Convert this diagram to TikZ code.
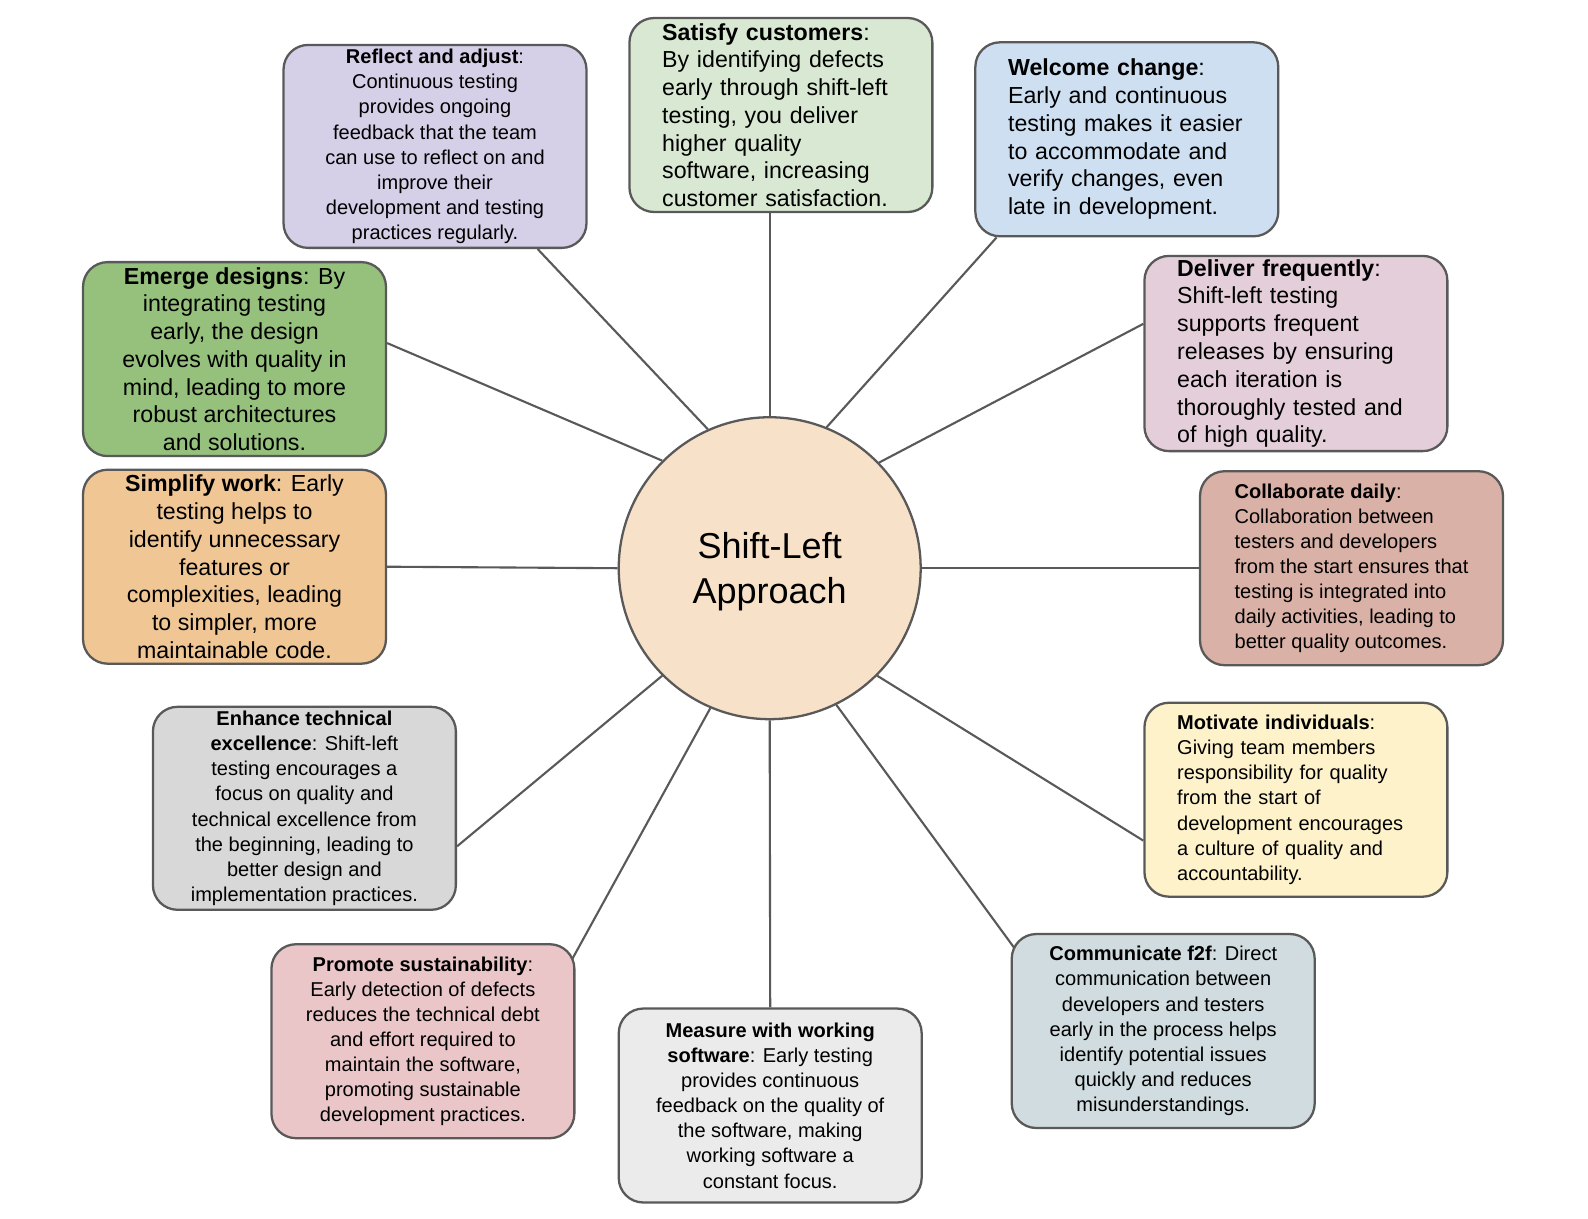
\documentclass[tikz,border=0pt]{standalone}
\usepackage{fontspec}
\setmainfont{Liberation Sans}
\usepackage{xcolor}
\definecolor{EdgeGray}{HTML}{595959}
\definecolor{HubPeach}{HTML}{F7E1C8}
\definecolor{ReflectPurple}{HTML}{D5CFE7}
\definecolor{SatisfyGreen}{HTML}{D9E8D2}
\definecolor{WelcomeBlue}{HTML}{CEDFF1}
\definecolor{EmergeGreen}{HTML}{95C17D}
\definecolor{DeliverMauve}{HTML}{E3CED9}
\definecolor{SimplifyOrange}{HTML}{F0C694}
\definecolor{CollabRed}{HTML}{DAB1A7}
\definecolor{EnhanceGray}{HTML}{D8D8D8}
\definecolor{MotivateYellow}{HTML}{FEF2CB}
\definecolor{PromotePink}{HTML}{EAC6C8}
\definecolor{MeasureGray}{HTML}{EBEBEB}
\definecolor{CommBlue}{HTML}{D0DCDF}
\usepackage{tikz}
\usetikzlibrary{backgrounds, calc}
\tikzset{
  % Box styles
  ideabox/.style={rectangle, rounded corners=14pt, draw=EdgeGray, line width=1.3pt, minimum width=6.06cm, minimum height=3.88cm, inner sep=2pt, text=black},
  leftbox/.style={ideabox, text width=4.75cm, align=left},
  bigtext/.style={font=\fontsize{13.2}{15.8}\selectfont},
  smalltext/.style={font=\fontsize{11.4}{14.3}\selectfont},
  % Node styles
  hubnode/.style={circle, draw=EdgeGray, line width=1.3pt, fill=HubPeach, minimum size=6.04cm, font=\fontsize{20.5}{25.6}\selectfont, align=center, text depth=0pt},
  % Line styles
  spoke/.style={draw=EdgeGray, line width=1.2pt}
}

\begin{document}
\begin{tikzpicture}[x=0.02cm, y=-0.02cm]
  \useasboundingbox (0,0) rectangle (1588,1218);

  % Centre
  \node[hubnode] (hub) at (769.7,568.2) {Shift-Left\\Approach};

  % Top row
  \node[ideabox, smalltext, fill=ReflectPurple, align=center, minimum height=4.06cm] (reflect) at (435,146.4) {\textbf{Reflect and adjust}:\\Continuous testing\\provides ongoing\\feedback that the team\\can use to reflect on and\\improve their\\development and testing\\practices regularly.};

  \node[leftbox, bigtext, fill=SatisfyGreen] (satisfy) at (780.9,115) {\textbf{Satisfy customers}:\\By identifying defects\\early through shift-left\\testing, you deliver\\higher quality\\software, increasing\\customer satisfaction.};

  \node[leftbox, bigtext, fill=WelcomeBlue] (welcome) at (1126.8,139.3) {\textbf{Welcome change}:\\Early and continuous\\testing makes it easier\\to accommodate and\\verify changes, even\\late in development.};

  % Left side
  \node[ideabox, bigtext, fill=EmergeGreen, align=center] (emerge) at (234.5,359.1) {\textbf{Emerge designs}: By\\integrating testing\\early, the design\\evolves with quality in\\mind, leading to more\\robust architectures\\and solutions.};

  \node[ideabox, bigtext, fill=SimplifyOrange, align=center] (simplify) at (234.5,566.7) {\textbf{Simplify work}: Early\\testing helps to\\identify unnecessary\\features or\\complexities, leading\\to simpler, more\\maintainable code.};

  \node[ideabox, smalltext, fill=EnhanceGray, align=center, minimum height=4.06cm] (enhance) at (304.4,808.3) {\textbf{Enhance technical}\\\textbf{excellence}: Shift-left\\testing encourages a\\focus on quality and\\technical excellence from\\the beginning, leading to\\better design and\\implementation practices.};

  % Right side
  \node[leftbox, bigtext, fill=DeliverMauve] (deliver) at (1295.9,353.5) {\textbf{Deliver frequently}:\\Shift-left testing\\supports frequent\\releases by ensuring\\each iteration is\\thoroughly tested and\\of high quality.};

  \node[ideabox, smalltext, fill=CollabRed, align=left] (collab) at (1351.5,568.2) {\textbf{Collaborate daily}:\\Collaboration between\\testers and developers\\from the start ensures that\\testing is integrated into\\daily activities, leading to\\better quality outcomes.};

  \node[leftbox, smalltext, fill=MotivateYellow] (motivate) at (1295.9,799.7) {\textbf{Motivate individuals}:\\Giving team members\\responsibility for quality\\from the start of\\development encourages\\a culture of quality and\\accountability.};

  % Bottom row
  \node[ideabox, smalltext, fill=PromotePink, align=center] (promote) at (422.9,1041.2) {\textbf{Promote sustainability}:\\Early detection of defects\\reduces the technical debt\\and effort required to\\maintain the software,\\promoting sustainable\\development practices.};

  \node[ideabox, smalltext, fill=MeasureGray, align=center] (measure) at (770.2,1105.5) {\textbf{Measure with working}\\\textbf{software}: Early testing\\provides continuous\\feedback on the quality of\\the software, making\\working software a\\constant focus.};

  \node[ideabox, smalltext, fill=CommBlue, align=center] (communicate) at (1163.2,1031) {\textbf{Communicate f2f}: Direct\\communication between\\developers and testers\\early in the process helps\\identify potential issues\\quickly and reduces\\misunderstandings.};

  % Spokes
  \begin{scope}[on background layer]
    \draw[spoke] (hub.114) -- (reflect.-45);
    \draw[spoke] (hub.north) -- (hub.north |- satisfy.south);
    \draw[spoke] (hub.68) -- (welcome.217);
    \draw[spoke] (hub.135) -- (emerge.6);
    \draw[spoke] (hub.44) -- (deliver.169);
    \draw[spoke] (hub.west) -- (simplify.east);
    \draw[spoke] (hub.east) -- (collab.west);
    \draw[spoke] (hub.225) -- (enhance.-14);
    \draw[spoke] (hub.-45) -- (motivate.195);
    \draw[spoke] (hub.247) -- ($(hub.247)!1.15!(promote.30)$);
    \draw[spoke] (hub.south) -- (measure.north);
    \draw[spoke] (hub.-64) -- ($(hub.-64)!1.15!(communicate.150)$);
  \end{scope}
\end{tikzpicture}
\end{document}
